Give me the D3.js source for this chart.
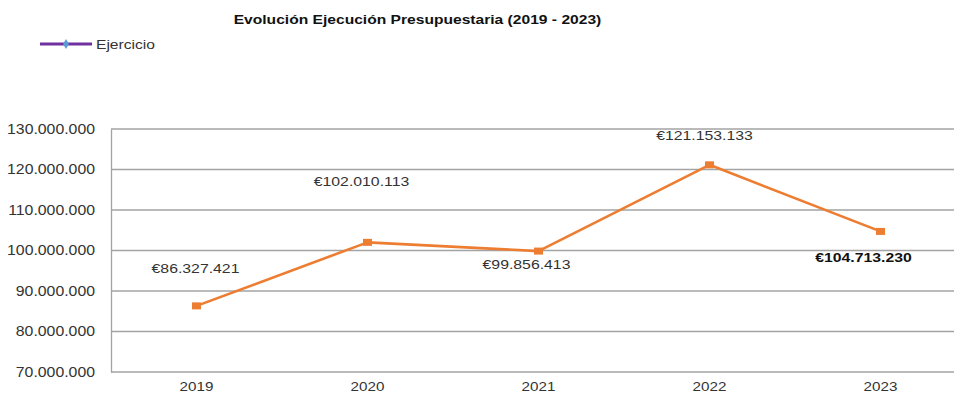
<!DOCTYPE html>
<html>
<head>
<meta charset="utf-8">
<script src="https://cdn.jsdelivr.net/npm/d3@7"></script>
<style>
  html, body { margin: 0; padding: 0; background: #fff; }
  svg { display: block; }
  text { font-family: "Liberation Sans", Arial, sans-serif; }
</style>
</head>
<body>
<svg id="chart" width="954" height="394"></svg>
<script>
// Budget execution per year
const years = ["2019", "2020", "2021", "2022", "2023"];
const ejercicio = [86327421, 102010113, 99856413, 121153133, 104713230];
const yTicks = [70000000, 80000000, 90000000, 100000000, 110000000, 120000000, 130000000];
const seriesName = "Ejercicio";
const chartTitle = "Evolución Ejecución Presupuestaria (2019 - 2023)";

// Manual placement of each value label relative to its point (dx, dy of text centre)
const labelDx = [-1, -6, -12, -5, -17];
const labelDy = [-38, -61, 13, -30, 26];
const labelBold = [false, false, false, false, true];

const plot = { left: 111, right: 966, top: 129, bottom: 372 };

const svg = d3.select("#chart");

const x = d3.scaleBand().domain(years).range([plot.left, plot.right]);
const y = d3.scaleLinear().domain([70000000, 130000000]).range([plot.bottom, plot.top]);

const esNum = d3.formatLocale({ decimal: ",", thousands: ".", grouping: [3], currency: ["€", ""] });
const fmtTick = esNum.format(",.0f");
const fmtEuro = esNum.format("$,.0f");

// Horizontal gridlines
svg.append("g")
  .selectAll("line")
  .data(yTicks)
  .join("line")
  .attr("x1", plot.left).attr("x2", plot.right)
  .attr("y1", d => y(d)).attr("y2", d => y(d))
  .attr("stroke", "#a3a3a3").attr("stroke-width", 1.3);

// Y axis
const yAxis = svg.append("g")
  .attr("transform", `translate(${plot.left},0)`)
  .call(d3.axisLeft(y).tickValues(yTicks).tickFormat(fmtTick).tickSize(0).tickPadding(16));
yAxis.select(".domain").attr("stroke", "#a3a3a3").attr("stroke-width", 1.3);
yAxis.selectAll("text")
  .attr("font-size", 14).attr("fill", "#333").attr("class", "st").attr("data-k", 1.13)
  .attr("font-family", "Liberation Sans, Arial, sans-serif");

// X axis
const xAxis = svg.append("g")
  .attr("transform", `translate(0,${plot.bottom})`)
  .call(d3.axisBottom(x).tickSize(0).tickPadding(10));
xAxis.select(".domain").remove();
xAxis.selectAll("text")
  .attr("font-size", 13).attr("fill", "#333").attr("class", "st").attr("data-k", 1.17)
  .attr("font-family", "Liberation Sans, Arial, sans-serif");

// Series line
const pts = years.map((yr, i) => ({ yr, v: ejercicio[i], i }));
const cx = d => x(d.yr) + x.bandwidth() / 2;

svg.append("path")
  .datum(pts)
  .attr("fill", "none")
  .attr("stroke", "#ED7D31")
  .attr("stroke-width", 2.6)
  .attr("stroke-linejoin", "round")
  .attr("d", d3.line().x(cx).y(d => y(d.v)));

// Square markers
svg.append("g")
  .selectAll("rect")
  .data(pts)
  .join("rect")
  .attr("x", d => cx(d) - 4.5).attr("y", d => y(d.v) - 3.5)
  .attr("width", 9).attr("height", 7)
  .attr("fill", "#ED7D31");

// Value labels
svg.append("g")
  .selectAll("text")
  .data(pts)
  .join("text")
  .attr("class", "st").attr("data-k", 1.17)
  .attr("x", d => cx(d) + labelDx[d.i])
  .attr("y", d => y(d.v) + labelDy[d.i])
  .attr("dy", "0.35em")
  .attr("text-anchor", "middle")
  .attr("font-size", 13.5)
  .attr("font-weight", d => labelBold[d.i] ? "bold" : "normal")
  .attr("fill", d => labelBold[d.i] ? "#111" : "#333")
  .text(d => fmtEuro(d.v));

// Title
svg.append("text")
  .attr("class", "st").attr("data-k", 1.2)
  .attr("x", 417.5).attr("y", 24)
  .attr("text-anchor", "middle")
  .attr("font-size", 13).attr("font-weight", "bold").attr("fill", "#111")
  .text(chartTitle);

// Legend
const lg = svg.append("g");
lg.append("line")
  .attr("x1", 40).attr("x2", 92).attr("y1", 44).attr("y2", 44)
  .attr("stroke", "#7030A0").attr("stroke-width", 3);
lg.append("path")
  .attr("d", d3.symbol(d3.symbolDiamond, 30)())
  .attr("transform", "translate(66,44)")
  .attr("fill", "#5B9BD5");
lg.append("text")
  .attr("class", "st").attr("data-k", 1.2)
  .attr("x", 96).attr("y", 48.5)
  .attr("font-size", 13).attr("fill", "#333")
  .text(seriesName);

// Slightly widened glyphs, as in the original export
svg.selectAll("text.st").each(function () {
  const k = +this.getAttribute("data-k") || 1.17;
  const w = this.getComputedTextLength();
  d3.select(this).attr("textLength", w * k).attr("lengthAdjust", "spacingAndGlyphs");
});
</script>
</body>
</html>
